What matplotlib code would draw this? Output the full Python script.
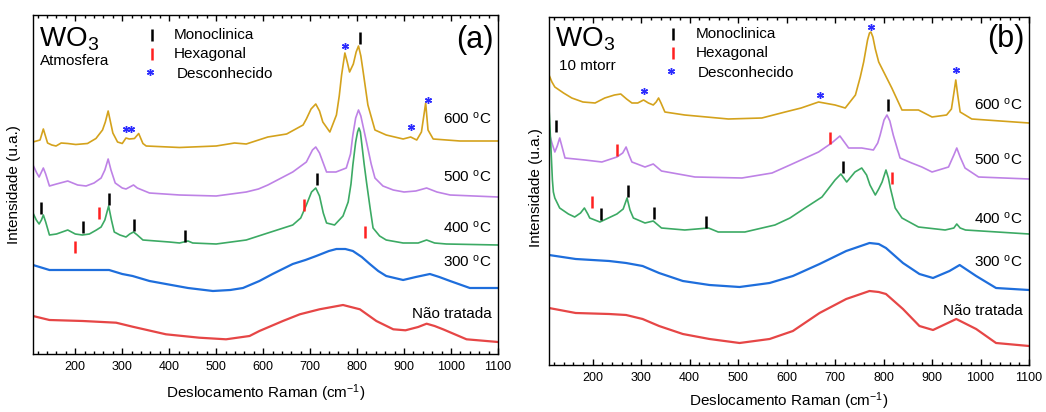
import matplotlib
matplotlib.use('Agg')
from matplotlib import pyplot as plt
from matplotlib.ticker import MultipleLocator

plt.rcParams['font.family'] = ['Liberation Sans', 'DejaVu Sans']
plt.rcParams['mathtext.fontset'] = 'custom'
plt.rcParams['mathtext.rm'] = 'Liberation Sans'

# labels of the five spectra, top to bottom
labels = ['600 $\\mathregular{^oC}$', '500 $\\mathregular{^oC}$', '400 $\\mathregular{^oC}$',
          '300 $\\mathregular{^oC}$', 'Não tratada']
colors = ['#D4A21C', '#BE82E6', '#3CAA64', '#1E6EDC', '#E64646']

# ---- panel (a): atmosfera ----
a600_x = [110, 125, 132, 141, 150, 159, 170, 184, 201, 226, 244, 258, 264, 270, 275, 280, 290, 300, 308,
          315, 326, 335, 344, 351, 422, 500, 539, 564, 610, 650, 685, 692, 702, 712, 720, 727, 742, 756,
          762, 767, 774, 779, 784, 792, 798, 803, 808, 813, 823, 838, 862, 898, 914, 927, 937, 942, 946,
          951, 962, 1019, 1100]
a600_y = [212, 214, 225, 211, 209, 208, 211, 210.5, 209.5, 210.5, 215.5, 224, 232, 243, 232, 221, 212,
          210.5, 216, 215, 215.5, 220.5, 210.5, 208, 206.5, 208, 211, 210, 217, 220, 229, 235, 245, 250,
          243, 232, 222, 239, 258, 279, 301, 292, 282, 290, 302, 308, 298, 282, 249, 224, 219, 215, 217,
          214, 222, 238, 251, 224, 215, 213, 213]

a500_x = [110, 118, 123, 128, 132, 137, 145, 160, 184, 205, 223, 240, 255, 263, 270, 276, 285, 300, 308,
          316, 324, 332, 358, 422, 500, 564, 590, 610, 663, 692, 705, 712, 720, 735, 755, 777, 786, 791,
          797, 803, 808, 814, 820, 830, 838, 855, 877, 900, 925, 948, 970, 998, 1100]
a500_y = [189, 181, 177, 182, 186, 180, 168, 170, 173, 169, 168, 171, 176, 184, 195, 184, 171, 166, 165,
          167, 169, 166, 161, 159, 158, 162, 165, 169, 182, 192, 204, 207, 201, 182, 182, 186, 200, 219,
          236, 244, 238, 225, 212, 190, 176, 168, 164, 162, 163, 166, 162, 159, 157]

a400_x = [110, 117, 123, 128, 132, 137, 145, 160, 184, 200, 215, 230, 245, 255, 263, 271, 277, 283, 295,
          308, 316, 324, 332, 344, 400, 422, 440, 450, 500, 564, 610, 663, 680, 692, 703, 712, 720, 728,
          735, 752, 770, 781, 787, 791, 797, 801, 804, 807, 810, 815, 820, 828, 834, 848, 862, 898, 930,
          948, 965, 990, 1100]
a400_y = [141, 134, 130, 134, 139, 132, 119, 120, 124, 120, 119, 120, 124, 127, 134, 148, 134, 122, 119,
          117, 120, 122, 119, 114, 112, 111, 113, 111, 110, 114, 121, 129, 136, 149, 162, 166, 158, 141,
          131, 129, 138, 152, 170, 189, 212, 222, 226, 222, 210, 190, 172, 145, 126, 118, 114, 111, 111,
          114, 111, 110, 109]

a300_x = [110, 145, 180, 230, 272, 300, 322, 358, 393, 440, 493, 530, 557, 592, 620, 663, 690, 713, 740,
          756, 775, 791, 810, 827, 845, 862, 898, 925, 955, 975, 998, 1040, 1100]
a300_y = [89, 84, 84, 84, 84, 80, 78, 73, 70, 66, 63, 64, 66, 73, 80, 90, 94, 98, 103, 105, 105, 103, 97,
          90, 83, 78, 74, 77, 80, 77, 73, 66, 66]

aNT_x = [110, 145, 216, 287, 322, 393, 464, 521, 571, 592, 642, 678, 720, 770, 806, 841, 877, 903, 930,
         948, 965, 983, 1033, 1100]
aNT_y = [38, 34, 33, 31.3, 27.3, 19.7, 16.3, 14.7, 18, 23, 33, 39.7, 44.7, 49, 44.7, 33, 24.7, 23.7, 27,
         30.3, 28, 24.7, 14.7, 12]

a_mono_x = [126, 217, 272, 326, 433, 715, 806]
a_mono_y = [146, 127, 155, 129, 118, 175, 316]
a_hex_x = [199, 251, 688, 816]
a_hex_y = [107, 141, 149, 122]
a_unk_x = [307, 319, 774, 914, 951]
a_unk_y = [225, 225, 308, 227, 254]

# ---- panel (b): 10 mtorr ----
b600_x = [110, 116, 122, 140, 157, 180, 205, 225, 245, 258, 270, 281, 293, 305, 315, 325, 331, 336, 341,
          349, 390, 480, 549, 597, 630, 666, 700, 721, 742, 752, 759, 767, 771, 774, 778, 783, 790, 817,
          838, 872, 900, 930, 940, 946, 949, 953, 958, 982, 1100]
b600_y = [290, 283, 278, 272, 267, 263, 262, 267, 270, 271, 266, 262, 262, 265, 262, 260, 263, 267, 262,
          253, 250, 246, 247, 253, 257, 263, 260, 257, 270, 288, 303, 325, 332, 333, 328, 316, 303, 277,
          255, 255, 248, 250, 256, 275, 285, 270, 253, 246, 242]

b500_x = [110, 116, 122, 127, 132, 137, 143, 184, 219, 250, 262, 269, 275, 281, 308, 325, 342, 411, 460,
          508, 570, 607, 666, 693, 710, 728, 755, 779, 788, 793, 801, 807, 813, 820, 834, 858, 879, 900,
          934, 945, 951, 958, 968, 996, 1100]
b500_y = [233, 222, 213, 219, 227, 218, 207, 205, 203, 208, 212, 218, 210, 203, 198, 201, 194, 188, 187.5,
          187, 192, 200, 213, 222, 229, 217, 217, 215, 222, 230, 245, 250, 244, 230, 207, 202, 198, 193,
          198, 210, 217, 208, 197, 188, 186]

b400_x = [110, 112, 114, 117, 119, 122, 132, 150, 163, 175, 183, 190, 194, 215, 250, 263, 271, 277, 284,
          308, 325, 342, 390, 439, 459, 514, 576, 607, 638, 673, 700, 712, 724, 741, 755, 765, 772, 783,
          790, 797, 805, 810, 814, 824, 838, 872, 927, 945, 951, 958, 969, 1100]
b400_y = [257, 237, 217, 185, 173, 167, 157, 151, 148, 152, 157, 151, 147, 143, 151, 156, 167, 155, 147,
          142, 144, 137, 135, 137, 133, 133, 140, 147, 157, 168, 185, 191, 183, 193, 197, 190, 180, 170,
          176, 183, 195, 187, 177, 157, 147, 138, 135, 137, 141, 137, 135, 131]

b300_x = [110, 165, 234, 269, 303, 337, 386, 441, 503, 565, 613, 668, 723, 771, 790, 805, 840, 874, 902,
          936, 957, 991, 1032, 1100]
b300_y = [110, 106, 104, 102, 99, 92, 84, 80, 78, 82, 89, 101, 114, 122, 121, 117, 102, 91, 87, 94, 100,
          89, 77, 75]

bNT_x = [110, 165, 234, 269, 303, 337, 386, 441, 503, 565, 613, 668, 723, 771, 790, 805, 840, 874, 902,
         950, 991, 1032, 1100]
bNT_y = [57, 52, 51, 50, 46, 39, 31, 26, 22, 26, 34, 52, 66, 74, 73, 71, 56, 39, 35, 46, 36, 22, 19]

b_mono_x = [124, 217, 272, 326, 434, 717, 809]
b_mono_y = [239, 151, 174, 152, 143, 198, 260]
b_hex_x = [199, 250, 690, 818]
b_hex_y = [163, 215, 227, 187]
b_unk_x = [305, 668, 774, 949]
b_unk_y = [274, 270, 338, 295]


def draw_panel(ax, curves, label_y, mono, hexa, unk, ytop, letter, condition, leg, head):
    for (x, y), c in zip(curves, colors):
        lw = 1.6 if c == '#1E6EDC' or c == '#E64646' else 1.2
        ax.plot(x, y, color=c, lw=lw)
    for lab, ly in zip(labels, label_y):
        ax.text(1087, ly, lab, ha='right', va='baseline', fontsize=11)
    # phase markers
    ax.plot(mono[0], mono[1], ls='none', marker='|', ms=8, mew=1.8, color='black')
    ax.plot(hexa[0], hexa[1], ls='none', marker='|', ms=8, mew=1.8, color='#FF2020')
    ax.plot(unk[0], unk[1], ls='none', marker=(6, 2, 0), ms=5, mew=1.0, color='#2B2BFF')
    # legend, drawn by hand as in the figure
    lx, ly = leg
    ax.plot([lx], [ly], marker='|', ms=8, mew=1.8, color='black')
    ax.plot([lx], [ly - 19], marker='|', ms=8, mew=1.8, color='#FF2020')
    ax.plot([lx - 3], [ly - 37], marker=(6, 2, 0), ms=5, mew=1.0, color='#2B2BFF')
    ax.text(lx + 47, ly, 'Monoclinica', va='center', fontsize=11)
    ax.text(lx + 47, ly - 19, 'Hexagonal', va='center', fontsize=11)
    ax.text(lx + 52, ly - 39, 'Desconhecido', va='center', fontsize=11)
    ax.text(123, ytop - head[0], 'WO$\\mathregular{_3}$', va='baseline', fontsize=20)
    ax.text(condition[1], ytop - condition[2], condition[0], va='baseline', fontsize=11)
    ax.text(1090, ytop - head[1], letter, ha='right', va='center', fontsize=22)

    ax.set_xlim(110, 1100)
    ax.set_ylim(0, ytop)
    ax.set_yticks([])
    ax.xaxis.set_major_locator(MultipleLocator(100))
    ax.xaxis.set_minor_locator(MultipleLocator(20))
    ax.tick_params(axis='x', which='both', direction='in', top=True, labelsize=9, pad=5)
    ax.tick_params(axis='x', which='major', length=4.5, width=1)
    ax.tick_params(axis='x', which='minor', length=2.5, width=1)
    ax.set_xticks(range(200, 1101, 100))
    ax.set_xlabel('Deslocamento Raman (cm$\\mathregular{^{-1}}$)', fontsize=11)
    ax.set_ylabel('Intensidade (u.a.)', fontsize=11)
    for s in ax.spines.values():
        s.set_linewidth(1.0)


fig = plt.figure(figsize=(10.46, 4.12), dpi=100)
ax1 = fig.add_axes([0.03155, 0.14078, 0.44455, 0.82282])
ax2 = fig.add_axes([0.52486, 0.11408, 0.45889, 0.84466])

draw_panel(ax1,
           [(a600_x, a600_y), (a500_x, a500_y), (a400_x, a400_y), (a300_x, a300_y), (aNT_x, aNT_y)],
           [230, 172.3, 121.3, 87, 36.3],
           (a_mono_x, a_mono_y), (a_hex_x, a_hex_y), (a_unk_x, a_unk_y),
           339, '(a)', ('Atmosfera', 125, 50), (363, 319), (32, 25))
draw_panel(ax2,
           [(b600_x, b600_y), (b500_x, b500_y), (b400_x, b400_y), (b300_x, b300_y), (bNT_x, bNT_y)],
           [255, 200, 141.7, 98.3, 50],
           (b_mono_x, b_mono_y), (b_hex_x, b_hex_y), (b_unk_x, b_unk_y),
           348, '(b)', ('10 mtorr', 131, 53), (365, 331), (30, 22))

ax1.yaxis.set_label_coords(-0.026, 0.5)
ax2.yaxis.set_label_coords(-0.012, 0.51)
ax1.xaxis.set_label_coords(0.5, -0.085)
ax2.xaxis.set_label_coords(0.5, -0.072)

fig.savefig('out.png', dpi=100)
